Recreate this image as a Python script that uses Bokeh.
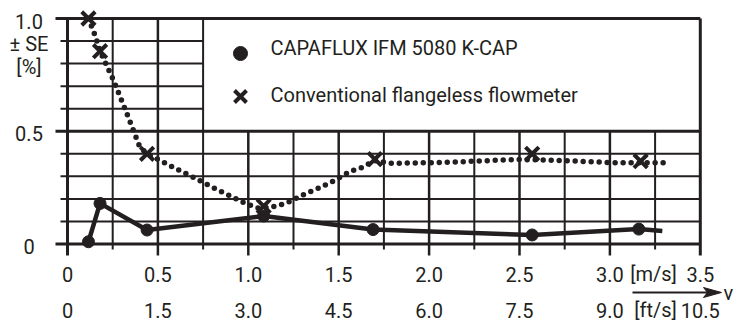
from bokeh.plotting import figure
from bokeh.models import Range1d
from bokeh.core.properties import value
from bokeh.embed import file_html
from bokeh.resources import INLINE

# ---------------- data ----------------
capa_v = [0.116, 0.18, 0.44, 1.085, 1.69, 2.57, 3.16]
capa_se = [0.01, 0.18, 0.062, 0.124, 0.064, 0.04, 0.066]
capa_end_v = [3.29]
capa_end_se = [0.058]

conv_v = [0.116, 0.18, 0.44, 1.085, 1.70, 2.57, 3.17]
conv_se = [1.0, 0.855, 0.40, 0.168, 0.376, 0.40, 0.367]
conv_curve_v = [0.116, 0.155, 0.18, 0.255, 0.33, 0.40, 0.44, 0.53, 0.61, 0.71,
                0.80, 0.89, 0.98, 1.05, 1.12, 1.21, 1.30, 1.39, 1.48, 1.565,
                1.62, 1.70, 1.79, 2.10, 2.49, 2.67, 3.04, 3.31]
conv_curve_se = [1.0, 0.92, 0.855, 0.725, 0.575, 0.43, 0.40, 0.363, 0.33, 0.29,
                 0.252, 0.217, 0.181, 0.16, 0.162, 0.181, 0.217, 0.248, 0.283, 0.323,
                 0.336, 0.37, 0.358, 0.362, 0.375, 0.372, 0.36, 0.36]

v_major_ticks = [0, 0.5, 1.0, 1.5, 2.0, 2.5, 3.0, 3.5]
v_minor_ticks = [0.25, 0.75, 1.25, 1.75, 2.25, 2.75, 3.25]
ms_labels = ["0", "0.5", "1.0", "1.5", "2.0", "2.5", "3.0", "3.5"]
fts_labels = ["0", "1.5", "3.0", "4.5", "6.0", "7.5", "9.0", "10.5"]
se_major_ticks = [0, 0.5, 1.0]
se_minor_ticks = [0.1, 0.2, 0.3, 0.4, 0.6, 0.7, 0.8, 0.9]
se_labels = ["0", "0.5", "1.0"]
legend_labels = ["CAPAFLUX IFM 5080 K-CAP", "Conventional flangeless flowmeter"]

# ---------------- geometry ----------------
W, H = 744, 322
PX0, SX = 67, 180.8     # page px of v=0, px per m/s
PY0, SY = 243.5, 225.5  # page px of SE=0, px per %

def xd(px):  # page px -> data x
    return (px - PX0) / SX

def yd(py):  # page px -> data y
    return (PY0 - py) / SY

INK = "#231f20"
FONT = value("Roboto")
FS = "20px"
V_MAX = 3.5
SE_MAX = 1.0
LEG_LEFT = 0.75
LEG_BOTTOM = 0.5
TXT = dict(text_font=FONT, text_font_size=FS, text_color=INK, text_baseline="middle")

p = figure(width=W, height=H, x_range=Range1d(xd(0), xd(W)),
           y_range=Range1d(yd(H), yd(0)), output_backend="svg",
           toolbar_location=None, x_axis_location=None, y_axis_location=None,
           min_border=0)
p.grid.visible = False
p.outline_line_color = None
p.background_fill_color = "white"
p.border_fill_color = "white"

# ---------------- grid / frame ----------------
hx0 = [xd(60)] * len(se_minor_ticks)
hx1 = [V_MAX if t < LEG_BOTTOM else LEG_LEFT for t in se_minor_ticks]
p.segment(x0=hx0, y0=se_minor_ticks, x1=hx1, y1=se_minor_ticks, line_color=INK, line_width=2)
p.segment(x0=[xd(55)] * 3, y0=se_major_ticks, x1=[V_MAX] * 3, y1=se_major_ticks,
          line_color=INK, line_width=3)
vt = [SE_MAX if t <= LEG_LEFT else LEG_BOTTOM for t in v_minor_ticks]
p.segment(x0=v_minor_ticks, y0=[yd(249)] * len(v_minor_ticks), x1=v_minor_ticks, y1=vt,
          line_color=INK, line_width=2)
inner = v_major_ticks[1:-1]
vt2 = [SE_MAX if t <= LEG_LEFT else LEG_BOTTOM for t in inner]
p.segment(x0=inner, y0=[yd(255)] * len(inner), x1=inner, y1=vt2, line_color=INK, line_width=2.5)
edges = [v_major_ticks[0], v_major_ticks[-1]]
p.segment(x0=edges, y0=[yd(255)] * 2, x1=edges, y1=[SE_MAX] * 2, line_color=INK, line_width=3)

# ---------------- series ----------------
p.line(conv_curve_v, conv_curve_se, line_color=INK, line_width=5.5, line_dash="0 8",
       line_cap="round")
p.line(capa_v + capa_end_v, capa_se + capa_end_se, line_color=INK, line_width=4.5,
       line_join="round")
p.scatter(capa_v, capa_se, marker="circle", size=12, fill_color=INK, line_color=INK)
p.scatter(conv_v, conv_se, marker="x", size=19, line_color=INK, line_width=4)

# ---------------- legend ----------------
p.scatter([xd(240)], [yd(53)], marker="circle", size=14, fill_color=INK, line_color=INK)
p.scatter([xd(240)], [yd(96)], marker="x", size=17, line_color=INK, line_width=4)
p.text(x=[xd(270)] * 2, y=[yd(47.5), yd(94.5)], text=legend_labels, text_align="left", **TXT)

# ---------------- axis labels ----------------
lx = xd(28.5)
p.text(x=[lx] * 3, y=[t - 2.5 / SY for t in se_major_ticks], text=se_labels,
       text_align="center", **TXT)
p.text(x=[lx, lx], y=[yd(43), yd(66)], text=["\u00b1 SE", "[%]"], text_align="center", **TXT)

p.text(x=v_major_ticks, y=[yd(273.5)] * len(v_major_ticks), text=ms_labels,
       text_align="center", **TXT)
p.text(x=v_major_ticks, y=[yd(309.5)] * len(v_major_ticks), text=fts_labels,
       text_align="center", **TXT)
p.text(x=[xd(653), xd(655)], y=[yd(273.5), yd(309.5)], text=["[m/s]", "[ft/s]"],
       text_align="center", **TXT)

# arrow with "v"
ay = yd(292)
p.segment(x0=[xd(632)], y0=[ay], x1=[xd(708)], y1=[ay], line_color=INK, line_width=2)
p.patch(x=[xd(721), xd(703), xd(707), xd(703)], y=[ay, yd(287), ay, yd(297)],
        fill_color=INK, line_color=INK, line_width=1)
p.text(x=[xd(723)], y=[yd(292.5)], text=["v"], text_align="left", **TXT)

open("out.html", "w").write(file_html(p, INLINE))
